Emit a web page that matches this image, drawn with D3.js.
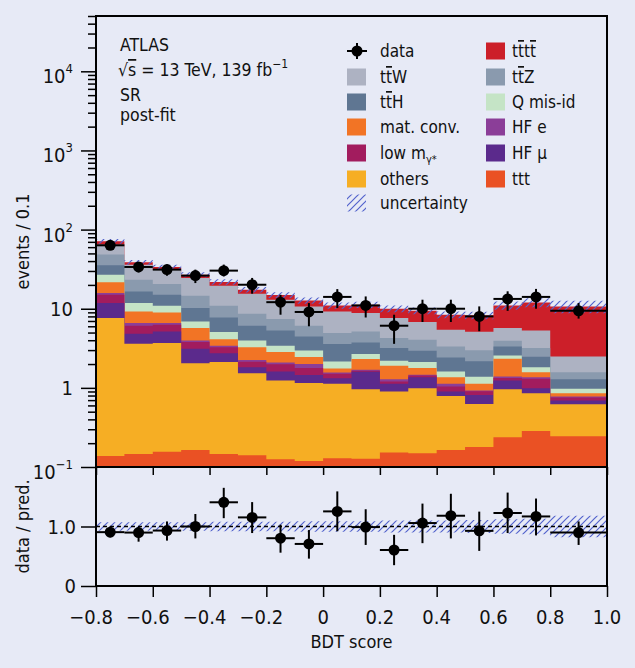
<!DOCTYPE html>
<html><head><meta charset="utf-8">
<script src="https://cdn.jsdelivr.net/npm/d3@7"></script>
<style>
html,body{margin:0;padding:0;background:#e7eaf6;}
svg{display:block;font-family:"Liberation Sans Narrow","DejaVu Sans Condensed","Arial Narrow",sans-serif;}
</style></head><body><svg id="c" width="635" height="668"></svg>
<script>
// ---------------- data ----------------
const binEdges = [-0.8,-0.7,-0.6,-0.5,-0.4,-0.3,-0.2,-0.1,0.0,0.1,0.2,0.3,0.4,0.5,0.6,0.7,0.8,1.0];
const dataX    = [-0.75,-0.65,-0.55,-0.45,-0.35,-0.25,-0.15,-0.05,0.05,0.15,0.25,0.35,0.45,0.55,0.65,0.75,0.9];

const ttt     = [0.138,0.146,0.156,0.164,0.146,0.141,0.125,0.119,0.129,0.127,0.152,0.149,0.164,0.179,0.238,0.286,0.245];
const others  = [7.49,3.46,3.52,1.89,1.98,1.39,1.11,1.03,0.995,0.836,0.746,0.842,0.628,0.448,0.725,0.571,0.377];
const hfMu    = [4.18,1.22,1.48,1.07,0.62,0.29,0.37,0.31,0.20,0.63,0.226,0.375,0.106,0.188,0.274,0.134,0.069];
const lowM    = [3.23,1.26,1.11,0.67,0.52,0.32,0.39,0.32,0.18,0.05,0.078,0.065,0.141,0.088,0.10,0.309,0.063];
const hfE     = [0.76,0.50,0.32,0.18,0.13,0.11,0.10,0.23,0.06,0.05,0.087,0.03,0.085,0.021,0.05,0.058,0.022];
const matConv = [5.73,2.66,2.39,1.73,0.73,1.01,0.74,0.44,0.19,0.62,0.61,0.316,0.242,0.20,0.94,0.213,0.081];
const qMisId  = [5.41,2.56,1.93,1.21,0.94,0.70,0.57,0.52,0.40,0.36,0.30,0.34,0.244,0.254,0.23,0.257,0.114];
const ttH     = [8.39,4.75,4.13,3.29,2.69,2.12,1.91,1.49,1.42,1.08,0.98,0.82,0.81,0.787,0.77,0.64,0.31];
const ttZ     = [12.94,6.72,5.50,4.41,3.15,2.56,2.10,1.63,1.35,1.41,1.08,1.11,0.91,0.82,0.61,0.71,0.29];
const ttW     = [16.3,12.78,10.63,9.85,8.64,6.83,5.59,4.60,4.33,3.67,3.37,2.74,2.09,2.13,1.76,2.13,0.92];
const tttt    = [6.5,2.49,2.55,2.48,2.23,1.92,1.9,2.05,1.76,2.41,2.37,2.65,2.98,3.16,5.31,6.71,8.2];

const relUnc  = [0.07,0.07,0.07,0.07,0.08,0.08,0.08,0.09,0.09,0.09,0.10,0.10,0.10,0.11,0.12,0.13,0.18];

const dataY   = [63.3,33.7,31.2,26.2,30.3,20.1,12.1,9.1,14.1,11.0,6.1,10.0,10.0,8.0,13.3,14.1,9.4];
const dataHi  = [72.5,39.0,36.1,31.2,36.1,24.5,15.0,11.8,17.7,14.3,8.4,13.0,13.0,10.7,16.6,17.8,11.8];
const dataLo  = [57.3,28.8,26.1,21.1,25.6,15.5,8.4,6.0,10.2,7.75,3.6,6.8,6.8,5.2,9.4,10.0,7.5];

const ratio   = [0.905,0.898,0.932,1.0,1.407,1.153,0.803,0.707,1.254,0.99,0.605,1.058,1.181,0.927,1.227,1.169,0.898];
const ratioHi = [1.0,0.99,1.085,1.21,1.65,1.41,1.03,0.94,1.59,1.29,0.86,1.385,1.55,1.25,1.57,1.47,1.085];
const ratioLo = [0.82,0.745,0.763,0.80,1.14,0.89,0.56,0.46,0.92,0.69,0.35,0.72,0.80,0.59,0.89,0.85,0.69];

const xTicks  = [-0.8,-0.6,-0.4,-0.2,0,0.2,0.4,0.6,0.8,1.0];
const xTickLabels = ["\u22120.8","\u22120.6","\u22120.4","\u22120.2","0","0.2","0.4","0.6","0.8","1.0"];
const yMajor  = [0.1,1,10,100,1000,10000];
const yMajorExp = ["\u22121",null,null,"2","3","4"];
const yMajorBase = ["10","1","10","10","10","10"];
const rTicks  = [0,1];
const rTickLabels = ["0","1.0"];

// ---------------- layout ----------------
const svg = d3.select("#c");
const L=96, R=607, T=16, B1=467, B2=586;
const x  = d3.scaleLinear().domain([-0.8,1.0]).range([L,R]);
const y  = d3.scaleLog().domain([0.1,5e4]).range([B1,T]).clamp(true);
const yr = d3.scaleLinear().domain([0,2]).range([B2,B1]);

const keys = ["ttt","others","hfMu","lowM","hfE","matConv","qMisId","ttH","ttZ","ttW","tttt"];
const series = {ttt,others,hfMu,lowM,hfE,matConv,qMisId,ttH,ttZ,ttW,tttt};
const colors = {ttt:"#ea5124",others:"#f6ae24",hfMu:"#5b2a8c",lowM:"#a21c5e",hfE:"#8b3e98",
  matConv:"#f27425",qMisId:"#c5e4c6",ttH:"#5f7692",ttZ:"#8a9aae",ttW:"#adb2c2",tttt:"#cc1f29"};

const nb = binEdges.length-1;
const rows = d3.range(nb).map(i=>{const o={}; keys.forEach(k=>o[k]=series[k][i]); return o;});
const stacked = d3.stack().keys(keys)(rows);
const total = d3.range(nb).map(i=>stacked[stacked.length-1][i][1]);

const defs = svg.append("defs");
const pat = defs.append("pattern").attr("id","hatch").attr("patternUnits","userSpaceOnUse")
  .attr("width",7).attr("height",7);
pat.append("path").attr("d","M-1,1 l2,-2 M0,7 l7,-7 M6,8 l2,-2")
  .attr("stroke","#5363cc").attr("stroke-width",1.2).attr("fill","none");
defs.append("clipPath").attr("id","clipMain").append("rect").attr("x",L).attr("y",T).attr("width",R-L).attr("height",B1-T);
defs.append("clipPath").attr("id","clipRatio").append("rect").attr("x",L).attr("y",B1).attr("width",R-L).attr("height",B2-B1);

function stepPts(vals0, vals1){
  const pts=[];
  for(let i=0;i<nb;i++){
    pts.push({x:binEdges[i],y0:vals0[i],y1:vals1[i]});
    pts.push({x:binEdges[i+1],y0:vals0[i],y1:vals1[i]});
  }
  return pts;
}
const areaMain = d3.area().x(d=>x(d.x)).y0(d=>y(Math.max(d.y0,0.1))).y1(d=>y(Math.max(d.y1,0.1)));
const gMain = svg.append("g").attr("clip-path","url(#clipMain)");
// paint cumulative areas top-first to avoid seams
for(let k=stacked.length-1;k>=0;k--){
  const s=stacked[k];
  gMain.append("path")
    .attr("d",areaMain(stepPts(d3.range(nb).map(()=>0.1), s.map(d=>d[1]))))
    .attr("fill",colors[keys[k]]);
}
// uncertainty band
gMain.append("path")
  .attr("d",areaMain(stepPts(total.map((t,i)=>t*(1-relUnc[i])), total.map((t,i)=>t*(1+relUnc[i])))))
  .attr("fill","url(#hatch)");

// data points main
const gD = gMain.append("g");
for(let i=0;i<nb;i++){
  gD.append("line").attr("x1",x(binEdges[i])).attr("x2",x(binEdges[i+1]))
    .attr("y1",y(dataY[i])).attr("y2",y(dataY[i])).attr("stroke","#000").attr("stroke-width",2);
  gD.append("line").attr("x1",x(dataX[i])).attr("x2",x(dataX[i]))
    .attr("y1",y(dataLo[i])).attr("y2",y(dataHi[i])).attr("stroke","#000").attr("stroke-width",2);
  gD.append("circle").attr("cx",x(dataX[i])).attr("cy",y(dataY[i])).attr("r",5.5).attr("fill","#000");
}

// ratio panel
const areaR = d3.area().x(d=>x(d.x)).y0(d=>yr(d.y0)).y1(d=>yr(d.y1));
const gR = svg.append("g").attr("clip-path","url(#clipRatio)");
gR.append("path").attr("d",areaR(stepPts(relUnc.map(u=>1-u), relUnc.map(u=>1+u)))).attr("fill","url(#hatch)");
gR.append("line").attr("x1",L).attr("x2",R).attr("y1",yr(1)).attr("y2",yr(1))
  .attr("stroke","#000").attr("stroke-width",1.5).attr("stroke-dasharray","4,3");
for(let i=0;i<nb;i++){
  gR.append("line").attr("x1",x(binEdges[i])).attr("x2",x(binEdges[i+1]))
    .attr("y1",yr(ratio[i])).attr("y2",yr(ratio[i])).attr("stroke","#000").attr("stroke-width",2);
  gR.append("line").attr("x1",x(dataX[i])).attr("x2",x(dataX[i]))
    .attr("y1",yr(ratioLo[i])).attr("y2",yr(ratioHi[i])).attr("stroke","#000").attr("stroke-width",2);
  gR.append("circle").attr("cx",x(dataX[i])).attr("cy",yr(ratio[i])).attr("r",5.5).attr("fill","#000");
}

// ---------------- axes ----------------
const tickStyle = g=>{g.select(".domain").remove(); g.selectAll("line").attr("stroke","#000").attr("stroke-width",1.5);};
const minors=[]; for(let e=-1;e<=4;e++) for(let m=2;m<=9;m++){const v=m*Math.pow(10,e); if(v<=5e4) minors.push(v);}
svg.append("g").attr("transform",`translate(${L},0)`)
  .call(d3.axisLeft(y).tickValues(minors).tickSize(8).tickFormat("")).call(tickStyle);
svg.append("g").attr("transform",`translate(${L},0)`)
  .call(d3.axisLeft(y).tickValues(yMajor).tickSize(15).tickFormat("")).call(tickStyle);
// main y labels
yMajor.forEach((v,i)=>{
  const t = svg.append("text").attr("text-anchor","end").attr("x",73)
    .attr("font-size",20).attr("fill","#111");
  if(yMajorExp[i]){
    t.attr("y",y(v)+12);
    t.append("tspan").text(yMajorBase[i]);
    t.append("tspan").attr("font-size",13).attr("dy",-10).text(yMajorExp[i]);
  } else {
    t.attr("y",y(v)+7).text(yMajorBase[i]);
  }
});
// ratio y axis
svg.append("g").attr("transform",`translate(${L},0)`)
  .call(d3.axisLeft(yr).tickValues(rTicks).tickSize(15).tickFormat("")).call(tickStyle);
rTicks.forEach((v,i)=>{
  svg.append("text").attr("text-anchor","end").attr("x",76).attr("y",yr(v)+7)
    .attr("font-size",20).attr("fill","#111").text(rTickLabels[i]);
});
// x axes
svg.append("g").attr("transform",`translate(0,${B1})`)
  .call(d3.axisBottom(x).tickValues(xTicks).tickSize(8).tickFormat("")).call(tickStyle);
svg.append("g").attr("transform",`translate(0,${B2})`)
  .call(d3.axisBottom(x).tickValues(xTicks).tickSize(11).tickFormat("")).call(tickStyle);
xTicks.forEach((v,i)=>{
  svg.append("text").attr("text-anchor","middle").attr("x",x(v)-(v<0?5:0)).attr("y",624)
    .attr("font-size",20).attr("fill","#111").text(xTickLabels[i]);
});

// frames
svg.append("rect").attr("x",L).attr("y",T).attr("width",R-L).attr("height",B1-T)
  .attr("fill","none").attr("stroke","#000").attr("stroke-width",2);
svg.append("rect").attr("x",L).attr("y",B1).attr("width",R-L).attr("height",B2-B1)
  .attr("fill","none").attr("stroke","#000").attr("stroke-width",2);

// axis titles
svg.append("text").attr("transform",`translate(29,${(T+B1)/2}) rotate(-90)`).attr("text-anchor","middle")
  .attr("font-size",18).attr("fill","#111").text("events / 0.1");
svg.append("text").attr("transform",`translate(29,${yr(1)}) rotate(-90)`).attr("text-anchor","middle")
  .attr("font-size",18).attr("fill","#111").text("data / pred.");
svg.append("text").attr("x",(L+R)/2).attr("y",648).attr("text-anchor","middle")
  .attr("font-size",18).attr("fill","#111").text("BDT score");

// ATLAS labels
const info = svg.append("g").attr("font-size",17.5).attr("fill","#111");
info.append("text").attr("x",120).attr("y",51).text("ATLAS");
const rs = info.append("text").attr("x",118).attr("y",76);
rs.append("tspan").text("\u221A");
rs.append("tspan").attr("text-decoration","overline").text("s");
rs.append("tspan").text(" = 13 TeV, 139 fb");
rs.append("tspan").attr("font-size",12).attr("dy",-8).text("\u22121");
info.append("text").attr("x",120).attr("y",101).text("SR");
info.append("text").attr("x",120).attr("y",121).text("post-fit");

// legend
const legRows=[51,77,102,127,153,179,203];
const col1=[{k:"data"},{k:"ttW",t:[["t"],["t","bar"],["W"]]},{k:"ttH",t:[["t"],["t","bar"],["H"]]},
  {k:"matConv",t:[["mat. conv."]]},{k:"lowM",t:[["low m"],["\u03B3*","sub"]]},{k:"others",t:[["others"]]},{k:"unc",t:[["uncertainty"]]}];
const col2=[{k:"tttt",t:[["t"],["t","bar"],["t"],["t","bar"]]},{k:"ttZ",t:[["t"],["t","bar"],["Z"]]},
  {k:"qMisId",t:[["Q mis-id"]]},{k:"hfE",t:[["HF e"]]},{k:"hfMu",t:[["HF \u03BC"]]},{k:"ttt",t:[["ttt"]]}];
const leg = svg.append("g");
function legLabel(xp,yc,parts){
  const t=leg.append("text").attr("x",xp).attr("y",yc+6).attr("font-size",17).attr("fill","#111");
  parts.forEach(p=>{
    const ts=t.append("tspan").text(p[0]);
    if(p[1]==="bar") ts.attr("text-decoration","overline");
    if(p[1]==="sub") ts.attr("font-size",11).attr("dy",4);
  });
}
col1.forEach((e,i)=>{
  const yc=legRows[i];
  if(e.k==="data"){
    leg.append("line").attr("x1",347).attr("x2",367).attr("y1",yc).attr("y2",yc).attr("stroke","#000").attr("stroke-width",2);
    leg.append("line").attr("x1",357).attr("x2",357).attr("y1",yc-8).attr("y2",yc+8).attr("stroke","#000").attr("stroke-width",2);
    leg.append("circle").attr("cx",357).attr("cy",yc).attr("r",5.5).attr("fill","#000");
    legLabel(380,yc,[["data"]]);
  } else {
    leg.append("rect").attr("x",347).attr("y",yc-8.5).attr("width",19).attr("height",17)
      .attr("fill",e.k==="unc"?"url(#hatch)":colors[e.k]);
    legLabel(380,yc,e.t);
  }
});
col2.forEach((e,i)=>{
  const yc=legRows[i];
  leg.append("rect").attr("x",486).attr("y",yc-8.5).attr("width",19).attr("height",17).attr("fill",colors[e.k]);
  legLabel(512,yc,e.t);
});
</script></body></html>
